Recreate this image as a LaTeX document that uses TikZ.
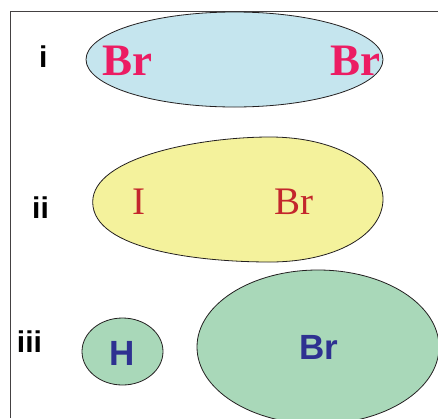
\documentclass[tikz,border=0pt]{standalone}
\usepackage{fontspec}
\setmainfont{Liberation Serif}
\setsansfont{Liberation Sans}

\definecolor{ink}{HTML}{231F20}
\definecolor{skyfill}{HTML}{C5E5EE}
\definecolor{lemonfill}{HTML}{F4F29C}
\definecolor{mintfill}{HTML}{A9D8B9}
\definecolor{bromag}{HTML}{EC1C63}
\definecolor{brick}{HTML}{C3262C}
\definecolor{navy}{HTML}{2E3191}

\begin{document}
\begin{tikzpicture}[x=1pt,y=-1pt,font=\sffamily\bfseries,text=ink]
  \useasboundingbox (0,0) rectangle (438,418);
  \clip (0,0) rectangle (438,418);

  % Open frame along the left and top edges.
  \draw[ink!85,line width=0.9pt] (10.5,418) -- (10.5,11) -- (438,11);

  % Electron clouds: symmetric, pulled towards Br, and fully separated.
  \tikzset{cloud/.style={draw=ink,line width=0.8pt}}
  \filldraw[cloud,fill=skyfill] (234.5,59.5) ellipse [x radius=148.5pt, y radius=47.5pt];
  \filldraw[cloud,fill=lemonfill] (92.7,202)
    .. controls (92.7,157) and (200,137) .. (270,137)
    .. controls (335,137) and (383,165) .. (383,199)
    .. controls (383,235) and (335,262) .. (270,262)
    .. controls (200,262) and (92.7,250) .. (92.7,202) -- cycle;
  \filldraw[cloud,fill=mintfill] (122.5,351.5) ellipse [x radius=40.5pt, y radius=33.5pt];
  \filldraw[cloud,fill=mintfill] (318,347) ellipse [x radius=121pt, y radius=77pt];

  % Row labels.
  \tikzset{rowlabel/.style={font=\sffamily\bfseries\fontsize{30}{30}\selectfont,text=black}}
  \node[rowlabel] (lab1) at (43.3,56.7) {i};
  \node[rowlabel] (lab2) at (40.5,207.5) {ii};
  \node[rowlabel] (lab3) at (29.5,342) {iii};

  % Atoms inside each cloud.
  \tikzset{atomA/.style={font=\rmfamily\bfseries\fontsize{45}{45}\selectfont,text=bromag},
           atomB/.style={font=\rmfamily\fontsize{39}{39}\selectfont,text=brick},
           atomC/.style={font=\sffamily\bfseries\fontsize{35}{35}\selectfont,text=navy}}
  \node[atomA] (brleft) at (127.5,60.5) {Br};
  \node[atomA] (brright) at (355,60.5) {Br};
  \node[atomB] (iodine) at (139,201.5) {I};
  \node[atomB] (brii) at (294,202) {Br};
  \node[atomC] (hydro) at (122,353) {H};
  \node[atomC] (briii) at (319,347) {Br};
\end{tikzpicture}
\end{document}
